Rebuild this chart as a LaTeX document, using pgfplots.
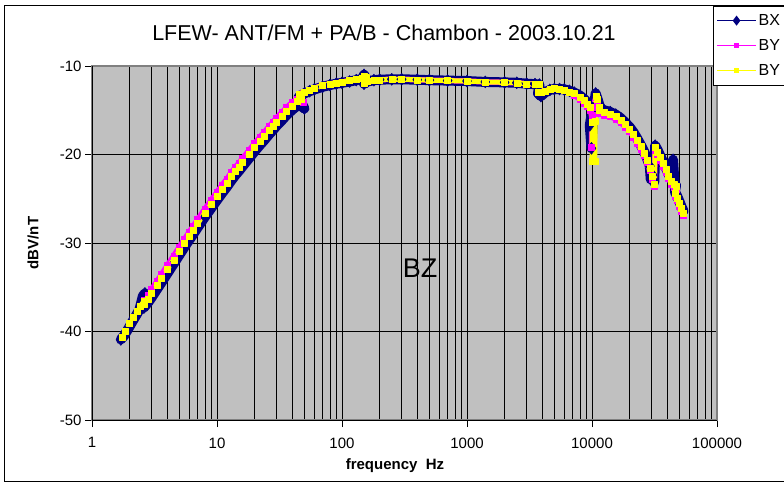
\documentclass[border=0pt]{standalone}
\usepackage{fontspec}
\setmainfont{Liberation Sans}
\usepackage{pgfplots}
\pgfplotsset{compat=1.18}

\definecolor{bxnavy}{RGB}{0,0,128}
\definecolor{bymag}{RGB}{255,0,255}
\definecolor{byyel}{RGB}{255,255,0}
\definecolor{plotgray}{RGB}{192,192,192}
\definecolor{framegray}{RGB}{128,128,128}

\begin{document}
\begin{tikzpicture}[x=1pt,y=1pt]
\useasboundingbox (0,0) rectangle (784,483);
% chart area frame (right edge falls outside the picture)
\draw[black, line width=1pt] (4,2) rectangle (820,477);
\node[font=\fontsize{21.5}{24}\selectfont] at (384,450) {LFEW- ANT/FM + PA/B - Chambon - 2003.10.21};
\node[font=\bfseries\fontsize{15}{18}\selectfont, rotate=90] at (33,240) {dBV/nT};
\node[font=\bfseries\fontsize{15}{18}\selectfont] at (395,17) {frequency\ \ Hz};

\begin{axis}[
    at={(92pt,63pt)}, anchor=south west,
    scale only axis,
    width=625pt, height=354pt,
    xmode=log,
    xmin=1, xmax=100000,
    ymin=-50, ymax=-10,
    xtick={1,10,100,1000,10000,100000},
    xticklabels={1,10,100,1000,10000,100000},
    ytick={-50,-40,-30,-20,-10},
    yticklabels={-50,-40,-30,-20,-10},
    tick label style={font=\fontsize{15}{18}\selectfont},
    xticklabel style={yshift=-7pt},
    tick align=outside,
    tick pos=left,
    major tick length=7pt,
    minor tick length=0pt,
    tick style={black, line width=0.8pt},
    grid=both,
    major grid style={black, line width=0.9pt},
    minor grid style={black, line width=0.6pt},
    axis background/.style={fill=plotgray},
    axis line style={draw=framegray, line width=1.2pt},
    legend style={
        at={(0.9936,1.1695)}, anchor=north west,
        draw=black, line width=0.8pt, fill=white,
        font=\fontsize{16}{18}\selectfont,
        row sep=8.5pt, inner xsep=3pt, inner ysep=6pt,
        legend cell align=left
    },
    legend image code/.code={%
        \draw[mark repeat=2,mark phase=2,#1] plot coordinates {(0pt,0pt) (19.5pt,0pt) (39pt,0pt)};},
    after end axis/.code={
        \draw[black, line width=1pt] (rel axis cs:0,0) -- (rel axis cs:1,0);
        \draw[black, line width=1pt] (rel axis cs:0,0) -- (rel axis cs:0,1);
    },
]

\addlegendimage{bxnavy, line width=1.3pt, mark=diamond*, mark size=4pt, mark options={fill=bxnavy}}
\addlegendentry{BX}
\addlegendimage{bymag, line width=1.3pt, mark=square*, mark size=1.6pt, mark options={fill=bymag}}
\addlegendentry{BY}
\addlegendimage{byyel, line width=1.3pt, mark=square*, mark size=1.6pt, mark options={fill=byyel}}
\addlegendentry{BY}

% BX
\addplot[forget plot, draw=bxnavy, line width=10pt, line join=round, line cap=round, mark=diamond*, mark size=6pt, mark options={draw=bxnavy, fill=bxnavy, line width=0.5pt}]
table {
1.7 -40.9
1.8 -40.5
1.95 -39.7
2.1 -38.9
2.25 -38.2
2.4 -37.5
2.55 -36.0
2.65 -35.7
2.6 -37.3
2.8 -36.75
3.0 -36.15
3.3 -35.25
3.6 -34.45
4.0 -33.45
4.5 -32.35
5.0 -31.35
5.5 -30.45
6.0 -29.65
6.5 -28.95
7.0 -28.25
8.0 -27.05
9.0 -26.05
10 -25.15
11 -24.35
12 -23.65
13 -22.95
14 -22.35
15 -21.85
16 -21.35
18 -20.45
20 -19.65
22 -18.95
24 -18.35
26 -17.75
28 -17.25
30 -16.75
33 -16.15
36 -15.55
40 -14.95
44 -14.45
48 -14.6
50 -14.8
45 -13.5
50 -13.1
55 -12.85
60 -12.65
70 -12.35
80 -12.15
90 -12.0
100 -11.9
115 -11.75
130 -11.6
145 -11.45
150 -11.0
155 -11.3
150 -12.0
160 -11.75
180 -11.6
200 -11.55
250 -11.5
300 -11.5
400 -11.55
500 -11.6
700 -11.65
1000 -11.7
1400 -11.8
2000 -11.85
2500 -11.9
3000 -12.0
3500 -12.05
3800 -12.1
3700 -13.1
3900 -13.4
4200 -13.0
4600 -12.7
5000 -12.6
5500 -12.6
6000 -12.65
6600 -12.8
7200 -13.0
8000 -13.35
8600 -13.7
9200 -14.1
9700 -14.5
10000 -15.2
9600 -16.7
9900 -19.3
10300 -14.8
10700 -13.1
11000 -13.6
11500 -14.5
11500 -14.8
12500 -15.0
14000 -15.2
15500 -15.5
17000 -15.9
18500 -16.4
20000 -16.9
21500 -17.5
23000 -18.2
24500 -18.9
26000 -19.6
27500 -20.4
29000 -21.3
29500 -22.8
30500 -22.3
31500 -23.1
32000 -19.0
33500 -19.5
35000 -20.1
37000 -20.8
39000 -21.5
41000 -22.2
43000 -22.8
44500 -20.6
45000 -21.8
46000 -23.4
47000 -23.5
46000 -24.2
48000 -24.7
50000 -25.3
52000 -25.9
54000 -26.4
};

% BY (magenta)
\addplot[forget plot, draw=bymag, line width=5.5pt, line join=round, line cap=round, mark=square*, mark size=3pt, mark options={draw=bymag, fill=bymag, line width=0.3pt}]
table {
2.6 -36.45
2.8 -35.85
3.0 -35.25
3.3 -34.35
3.6 -33.55
4.0 -32.55
4.5 -31.45
5.0 -30.45
5.5 -29.55
6.0 -28.75
6.5 -28.05
7.0 -27.35
8.0 -26.15
9.0 -25.15
10 -24.25
11 -23.45
12 -22.75
13 -22.05
14 -21.45
15 -20.95
16 -20.45
18 -19.55
20 -18.75
22 -18.05
24 -17.45
26 -16.85
28 -16.35
30 -15.85
33 -15.25
36 -14.7
40 -14.1
44 -13.7
47 -13.5
49 -14.1
45 -13.2
50 -12.9
55 -12.7
60 -12.5
70 -12.2
80 -12.0
90 -11.9
100 -11.8
115 -11.65
130 -11.5
145 -11.4
150 -11.9
155 -11.4
150 -11.9
160 -11.7
180 -11.6
200 -11.55
250 -11.5
300 -11.5
400 -11.55
500 -11.6
700 -11.65
1000 -11.7
1400 -11.8
2000 -11.85
2500 -11.9
3000 -12.0
3500 -12.05
3800 -12.1
3700 -12.9
3900 -13.0
4200 -12.8
4600 -12.6
5000 -12.55
5500 -12.6
6000 -12.75
6600 -13.0
7200 -13.3
8000 -13.75
8600 -14.15
9200 -14.55
9700 -14.95
10000 -15.6
9900 -19.2
10300 -14.7
10700 -13.5
11000 -14.2
11500 -14.9
11500 -15.3
12500 -15.5
14000 -15.7
15500 -16.0
17000 -16.4
18500 -16.9
20000 -17.4
21500 -18.0
23000 -18.7
24500 -19.4
26000 -20.1
27500 -20.9
29000 -21.8
30500 -22.8
31500 -23.6
32000 -19.5
33500 -20.0
35000 -20.6
37000 -21.3
39000 -22.0
41000 -22.7
43000 -23.3
45000 -23.7
47000 -23.9
46000 -24.7
48000 -25.2
50000 -25.8
52000 -26.4
54000 -26.9
};

% BY (yellow)
\addplot[forget plot, draw=byyel, line width=5pt, line join=round, line cap=round, mark=square*, mark size=3pt, mark options={draw=byyel, fill=byyel, line width=0.3pt}]
table {
1.75 -40.6
1.85 -40.0
2.0 -39.1
2.15 -38.4
2.3 -37.7
2.45 -37.1
2.6 -36.6
2.6 -36.9
2.8 -36.3
3.0 -35.7
3.3 -34.8
3.6 -34.0
4.0 -33.0
4.5 -31.9
5.0 -30.9
5.5 -30.0
6.0 -29.2
6.5 -28.5
7.0 -27.8
8.0 -26.6
9.0 -25.6
10 -24.7
11 -23.9
12 -23.2
13 -22.5
14 -21.9
15 -21.4
16 -20.9
18 -20.0
20 -19.2
22 -18.5
24 -17.9
26 -17.3
28 -16.8
30 -16.3
33 -15.7
36 -15.1
40 -14.5
44 -14.0
47 -13.7
45 -13.2
50 -12.9
55 -12.7
60 -12.5
70 -12.2
80 -12.0
90 -11.9
100 -11.8
115 -11.65
130 -11.5
145 -11.35
150 -11.1
155 -11.3
150 -11.9
160 -11.7
180 -11.6
200 -11.55
250 -11.5
300 -11.5
400 -11.55
500 -11.6
700 -11.65
1000 -11.7
1400 -11.8
2000 -11.85
2500 -11.9
3000 -12.0
3500 -12.05
3800 -12.1
3700 -12.9
3900 -13.0
4200 -12.8
4600 -12.6
5000 -12.55
5500 -12.6
6000 -12.7
6600 -12.9
7200 -13.1
8000 -13.5
8600 -13.9
9200 -14.3
9700 -14.7
10000 -16.3
10500 -16.2
10000 -16.4
10000 -20.8
10500 -20.8
10700 -13.4
11000 -13.8
11500 -14.6
11500 -15.0
12500 -15.2
14000 -15.4
15500 -15.7
17000 -16.1
18500 -16.6
20000 -17.1
21500 -17.7
23000 -18.4
24500 -19.1
26000 -19.8
27500 -20.6
29000 -21.5
30500 -22.5
31500 -23.3
32000 -19.2
33500 -19.7
35000 -20.3
37000 -21.0
39000 -21.7
41000 -22.4
43000 -23.0
45000 -23.4
47000 -23.6
46000 -24.4
48000 -24.9
50000 -25.5
52000 -26.1
54000 -26.6
};
\end{axis}

\node[font=\fontsize{27}{30}\selectfont] at (420,215) {BZ};
\end{tikzpicture}
\end{document}
